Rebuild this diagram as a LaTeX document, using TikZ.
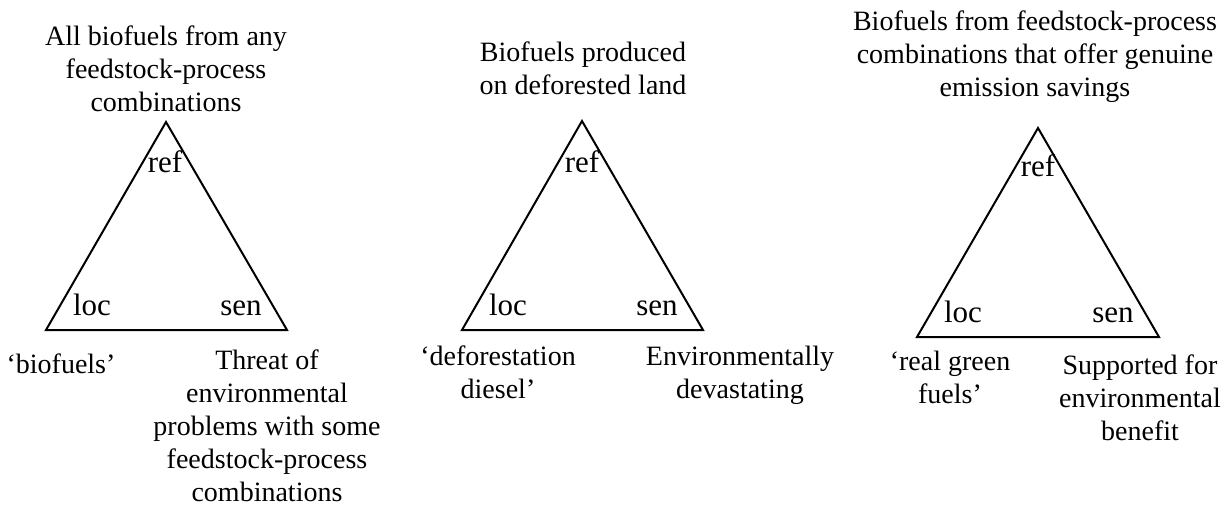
\documentclass[tikz,border=0pt]{standalone}
\usepackage{fontspec}
\setmainfont{Liberation Serif}
\begin{document}
\begin{tikzpicture}[x=1pt,y=-1pt,
  lbl/.style={inner sep=0pt,anchor=base,align=center,
    font=\fontsize{28}{33}\selectfont},
  corner/.style={lbl,font=\fontsize{31}{33}\selectfont},
  tri/.style={line width=2pt,line join=miter}]
\useasboundingbox (0,0) rectangle (1227,508);
% multi-line labels are placed by the baseline of their last line

% triangle 1
\coordinate (a1) at (166,122);
\coordinate (l1) at (46,330);
\coordinate (r1) at (287,330);
\draw[tri] (a1) -- (l1) -- (r1) -- cycle;
\node[lbl] (top1) at (166,112) {All biofuels from any\\feedstock-process\\combinations};
\node[corner] (ref1) at (165,172) {ref};
\node[corner] (loc1) at (92,315) {loc};
\node[corner] (sen1) at (241,315) {sen};
\node[lbl] (lw1) at (61,373) {‘biofuels’};
\node[lbl] (sw1) at (267,501) {Threat of\\environmental\\problems with some\\feedstock-process\\combinations};

% triangle 2
\coordinate (a2) at (582,121);
\coordinate (l2) at (462,330);
\coordinate (r2) at (703,330);
\draw[tri] (a2) -- (l2) -- (r2) -- cycle;
\node[lbl] (top2) at (583,95) {Biofuels produced\\on deforested land};
\node[corner] (ref2) at (582,172) {ref};
\node[corner] (loc2) at (508,315) {loc};
\node[corner] (sen2) at (657,315) {sen};
\node[lbl] (lw2) at (498,398) {‘deforestation\\diesel’};
\node[lbl] (sw2) at (740,398) {Environmentally\\devastating};

% triangle 3
\coordinate (a3) at (1038,128);
\coordinate (l3) at (917,337);
\coordinate (r3) at (1159,337);
\draw[tri] (a3) -- (l3) -- (r3) -- cycle;
\node[lbl] (top3) at (1035,97) {Biofuels from feedstock-process\\combinations that offer genuine\\emission savings};
\node[corner] (ref3) at (1038,177) {ref};
\node[corner] (loc3) at (963,322) {loc};
\node[corner] (sen3) at (1113,322) {sen};
\node[lbl] (lw3) at (950,403) {‘real green\\fuels’};
\node[lbl] (sw3) at (1140,440) {Supported for\\environmental\\benefit};
\end{tikzpicture}
\end{document}
